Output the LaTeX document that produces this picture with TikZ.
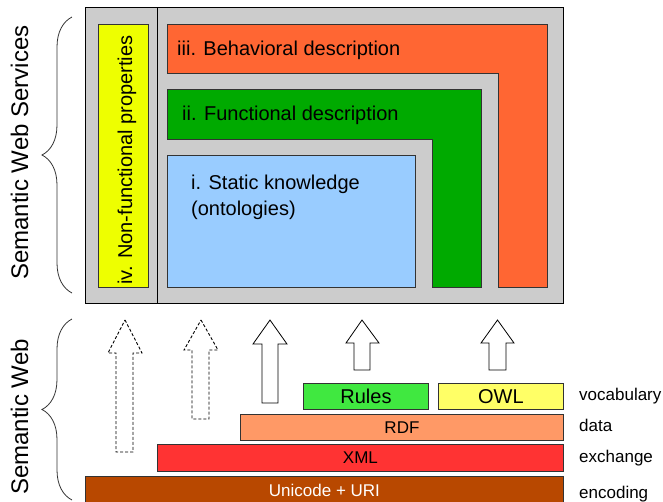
\documentclass[tikz,border=0pt]{standalone}
\usepackage{fontspec}
\setmainfont{Liberation Sans}
\usetikzlibrary{decorations.pathreplacing}
\definecolor{panelgray}{HTML}{CCCCCC}
\definecolor{nfyellow}{HTML}{EEFF00}
\definecolor{behorange}{HTML}{FF6633}
\definecolor{fungreen}{HTML}{00AA00}
\definecolor{statblue}{HTML}{99CCFF}
\definecolor{rulesgreen}{HTML}{40E840}
\definecolor{owlyellow}{HTML}{FFFF66}
\definecolor{rdforange}{HTML}{FF9966}
\definecolor{xmlred}{HTML}{FF3333}
\definecolor{unibrown}{HTML}{B84800}
\definecolor{edge}{HTML}{333333}
\tikzset{
  boxline/.style={draw=edge, line width=0.9pt},
  layer/.style={boxline, anchor=north west, inner sep=0pt, font=\fontsize{17}{20}\selectfont},
  bigtxt/.style={anchor=base west, inner sep=0pt, font=\fontsize{20}{24}\selectfont},
  sidetxt/.style={anchor=base west, inner sep=0pt, font=\fontsize{24}{28}\selectfont, rotate=90},
  lbltxt/.style={anchor=base west, inner sep=0pt, font=\fontsize{17}{20}\selectfont},
  blockarrow/.style={draw=black, line width=0.8pt, fill=white},
  dotarrow/.style={draw=black, line width=0.9pt, dash pattern=on 3pt off 2pt, fill=white},
  bracestyle/.style={draw=edge, line width=0.8pt, decorate, decoration={brace, amplitude=30pt}}
}
\begin{document}
\begin{tikzpicture}[x=1pt, y=-1pt]
\useasboundingbox (0,0) rectangle (663,501);
% services panel
\fill[panelgray] (85,7) rectangle (563,303);
\draw[black, line width=1pt] (85,7) rectangle (563,303);
\draw[black, line width=0.9pt] (157,7) -- (157,303);
\fill[nfyellow, boxline] (98,24) rectangle (148,287);
\node[sidetxt, font=\fontsize{20}{24}\selectfont] (nonfun) at (132,285) {iv. Non-functional properties};
\fill[behorange, boxline] (167,24) -- (547,24) -- (547,287) -- (498,287) -- (498,73) -- (167,73) -- cycle;
\node[bigtxt] (behav) at (177,55) {iii. Behavioral description};
\fill[fungreen, boxline] (167,89) -- (481,89) -- (481,287) -- (432,287) -- (432,139) -- (167,139) -- cycle;
\node[bigtxt] (func) at (182,120) {ii. Functional description};
\fill[statblue, boxline] (167,155) rectangle (415,287);
\node[bigtxt] (stat1) at (191,189) {i. Static knowledge};
\node[bigtxt] (stat2) at (191,215) {(ontologies)};
% braces
\draw[bracestyle] (72,293) -- (72,17);
\draw[bracestyle] (72,500) -- (72,319);
\node[sidetxt] (sws) at (28,280) {Semantic Web Services};
\node[sidetxt] (sw) at (28,495) {Semantic Web};
% layers
\node[layer, fill=unibrown, text=white, minimum width=478pt, minimum height=28pt] (uni) at (85,476) {Unicode + URI};
\node[layer, fill=xmlred, minimum width=406pt, minimum height=27pt] (xml) at (157,444) {XML};
\node[layer, fill=rdforange, minimum width=323pt, minimum height=26pt] (rdf) at (240,414) {RDF};
\node[layer, fill=rulesgreen, minimum width=125pt, minimum height=26pt, font=\fontsize{20}{24}\selectfont] (rules) at (303,383) {Rules};
\node[layer, fill=owlyellow, minimum width=125pt, minimum height=26pt, font=\fontsize{20}{24}\selectfont] (owl) at (438,383) {OWL};
\node[lbltxt] (voc) at (579,400) {vocabulary};
\node[lbltxt] (dat) at (579,431) {data};
\node[lbltxt] (exc) at (579,462) {exchange};
\node[lbltxt] (enc) at (579,498) {encoding};
% arrows
\draw[dotarrow] (125,320) -- (142,353) -- (133,353) -- (133,452) -- (116,452) -- (116,353) -- (108,353) -- cycle;
\draw[dotarrow] (201,320) -- (218,350) -- (209,350) -- (209,419) -- (192,419) -- (192,350) -- (184,350) -- cycle;
\draw[blockarrow] (270,320) -- (287,344) -- (278,344) -- (278,403) -- (262,403) -- (262,344) -- (253,344) -- cycle;
\draw[blockarrow] (362,320) -- (379,343) -- (370,343) -- (370,370) -- (354,370) -- (354,343) -- (346,343) -- cycle;
\draw[blockarrow] (497.5,320) -- (514,343) -- (506,343) -- (506,370) -- (489,370) -- (489,343) -- (481,343) -- cycle;
\end{tikzpicture}
\end{document}
